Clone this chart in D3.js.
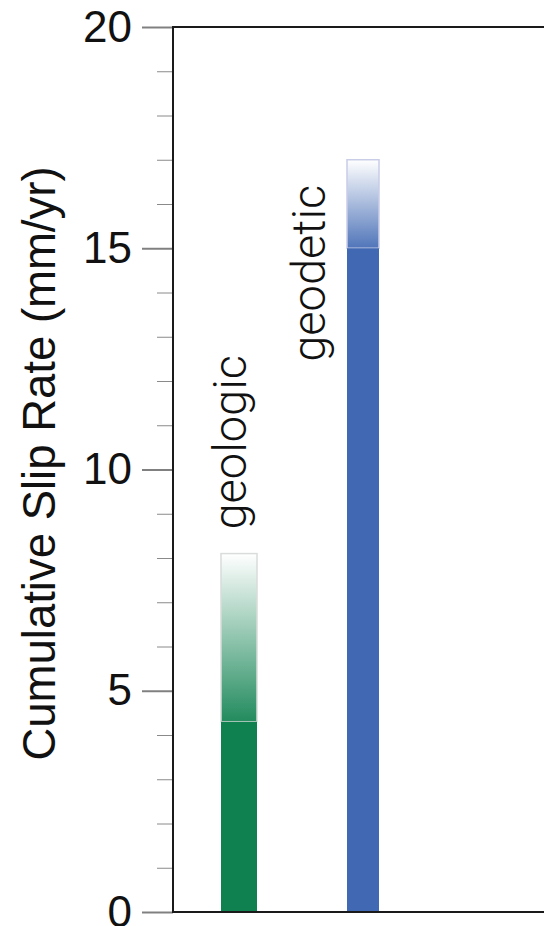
<!DOCTYPE html>
<html><head><meta charset="utf-8">
<script src="https://cdn.jsdelivr.net/npm/d3@7"></script>
<style>
html,body{margin:0;padding:0;background:#fff;overflow:hidden;}
svg{display:block;}
</style></head>
<body>
<svg id="chart" width="544" height="926"></svg>
<script>
// ---- data ----
const categories = ["geologic", "geodetic"];
const solidValues = [4.3, 15.0];     // well-constrained minimum slip rate
const maxValues   = [8.1, 17.0];     // upper bound (faded gradient)
const majorTicks  = [0, 5, 10, 15, 20];
const minorTicks  = d3.range(0, 21, 1);
const yTitle = "Cumulative Slip Rate (mm/yr)";

// ---- style ----
const colors = { geologic: "#0f8150", geodetic: "#4169b3" };
const fadeBorders = { geologic: "#d9dcda", geodetic: "#c9cde8" };
const barWidths = { geologic: 36, geodetic: 32 };

const svg = d3.select("#chart");
const mLeft = 173, mTop = 27, mBottom = 912, mRight = 560;

const y = d3.scaleLinear().domain([0, 20]).range([mBottom, mTop]);
const x = d3.scalePoint().domain(categories).range([239, 363]);

const defs = svg.append("defs");
categories.forEach(c => {
  const g = defs.append("linearGradient").attr("id", "grad-" + c)
    .attr("x1", 0).attr("y1", 1).attr("x2", 0).attr("y2", 0);
  g.append("stop").attr("offset", "0%").attr("stop-color", colors[c]).attr("stop-opacity", 0.92);
  g.append("stop").attr("offset", "100%").attr("stop-color", colors[c]).attr("stop-opacity", 0.0);
});

// minor ticks
svg.append("g").attr("transform", `translate(${mLeft},0)`)
  .call(d3.axisLeft(y).tickValues(minorTicks.filter(v => v % 5 !== 0)).tickSize(16).tickFormat(""))
  .call(g => g.select(".domain").remove())
  .call(g => g.selectAll("line").attr("stroke", "#8a8a8a").attr("stroke-width", 1));

// major ticks
svg.append("g").attr("transform", `translate(${mLeft},0)`)
  .call(d3.axisLeft(y).tickValues(majorTicks).tickSize(31).tickPadding(10).tickFormat(d3.format("d")))
  .call(g => g.select(".domain").remove())
  .call(g => g.selectAll("line").attr("stroke", "#808080").attr("stroke-width", 2))
  .call(g => g.selectAll("text").attr("fill", "#111").attr("font-size", 44)
    .attr("font-family", "'Liberation Sans', Arial, Helvetica, sans-serif"));

// bars: faded part
const data = categories.map((c, i) => ({ c, solid: solidValues[i], max: maxValues[i] }));
svg.append("g").selectAll("rect.fade").data(data).join("rect")
  .attr("class", "fade")
  .attr("x", d => x(d.c) - barWidths[d.c] / 2)
  .attr("width", d => barWidths[d.c])
  .attr("y", d => y(d.max))
  .attr("height", d => y(d.solid) - y(d.max))
  .attr("fill", d => `url(#grad-${d.c})`)
  .attr("stroke", d => fadeBorders[d.c]).attr("stroke-width", 1.5);

// bars: solid part
svg.append("g").selectAll("rect.solid").data(data).join("rect")
  .attr("class", "solid")
  .attr("x", d => x(d.c) - barWidths[d.c] / 2)
  .attr("width", d => barWidths[d.c])
  .attr("y", d => y(d.solid))
  .attr("height", d => y(0) - y(d.solid))
  .attr("fill", d => colors[d.c]);

// frame
svg.append("line").attr("x1", mLeft).attr("x2", mLeft).attr("y1", mTop - 1).attr("y2", mBottom + 1)
  .attr("stroke", "#1a1a1a").attr("stroke-width", 2);
svg.append("line").attr("x1", mLeft - 1).attr("x2", mRight).attr("y1", mTop).attr("y2", mTop)
  .attr("stroke", "#1a1a1a").attr("stroke-width", 2);
svg.append("line").attr("x1", mLeft - 1).attr("x2", mRight).attr("y1", mBottom).attr("y2", mBottom)
  .attr("stroke", "#1a1a1a").attr("stroke-width", 2);

// bar labels
const labelFont = "Roboto, 'Liberation Sans', Arial, sans-serif";
svg.append("text")
  .attr("transform", `translate(${x("geologic") + 7},${y(maxValues[0]) - 24}) rotate(-90)`)
  .attr("text-anchor", "start")
  .attr("font-family", labelFont).attr("font-weight", 300).attr("font-size", 47)
  .attr("fill", "#111")
  .text("geologic");
svg.append("text")
  .attr("transform", `translate(${x("geodetic") - 38},${y(maxValues[1]) + 25}) rotate(-90)`)
  .attr("text-anchor", "end")
  .attr("font-family", labelFont).attr("font-weight", 300).attr("font-size", 47)
  .attr("fill", "#111")
  .text("geodetic");

// y title
svg.append("text")
  .attr("transform", `translate(55,${(170 + 757) / 2}) rotate(-90)`)
  .attr("text-anchor", "middle")
  .attr("font-family", "'Liberation Sans', Arial, Helvetica, sans-serif")
  .attr("font-size", 45.5).attr("fill", "#111")
  .text(yTitle);
</script>
</body></html>
